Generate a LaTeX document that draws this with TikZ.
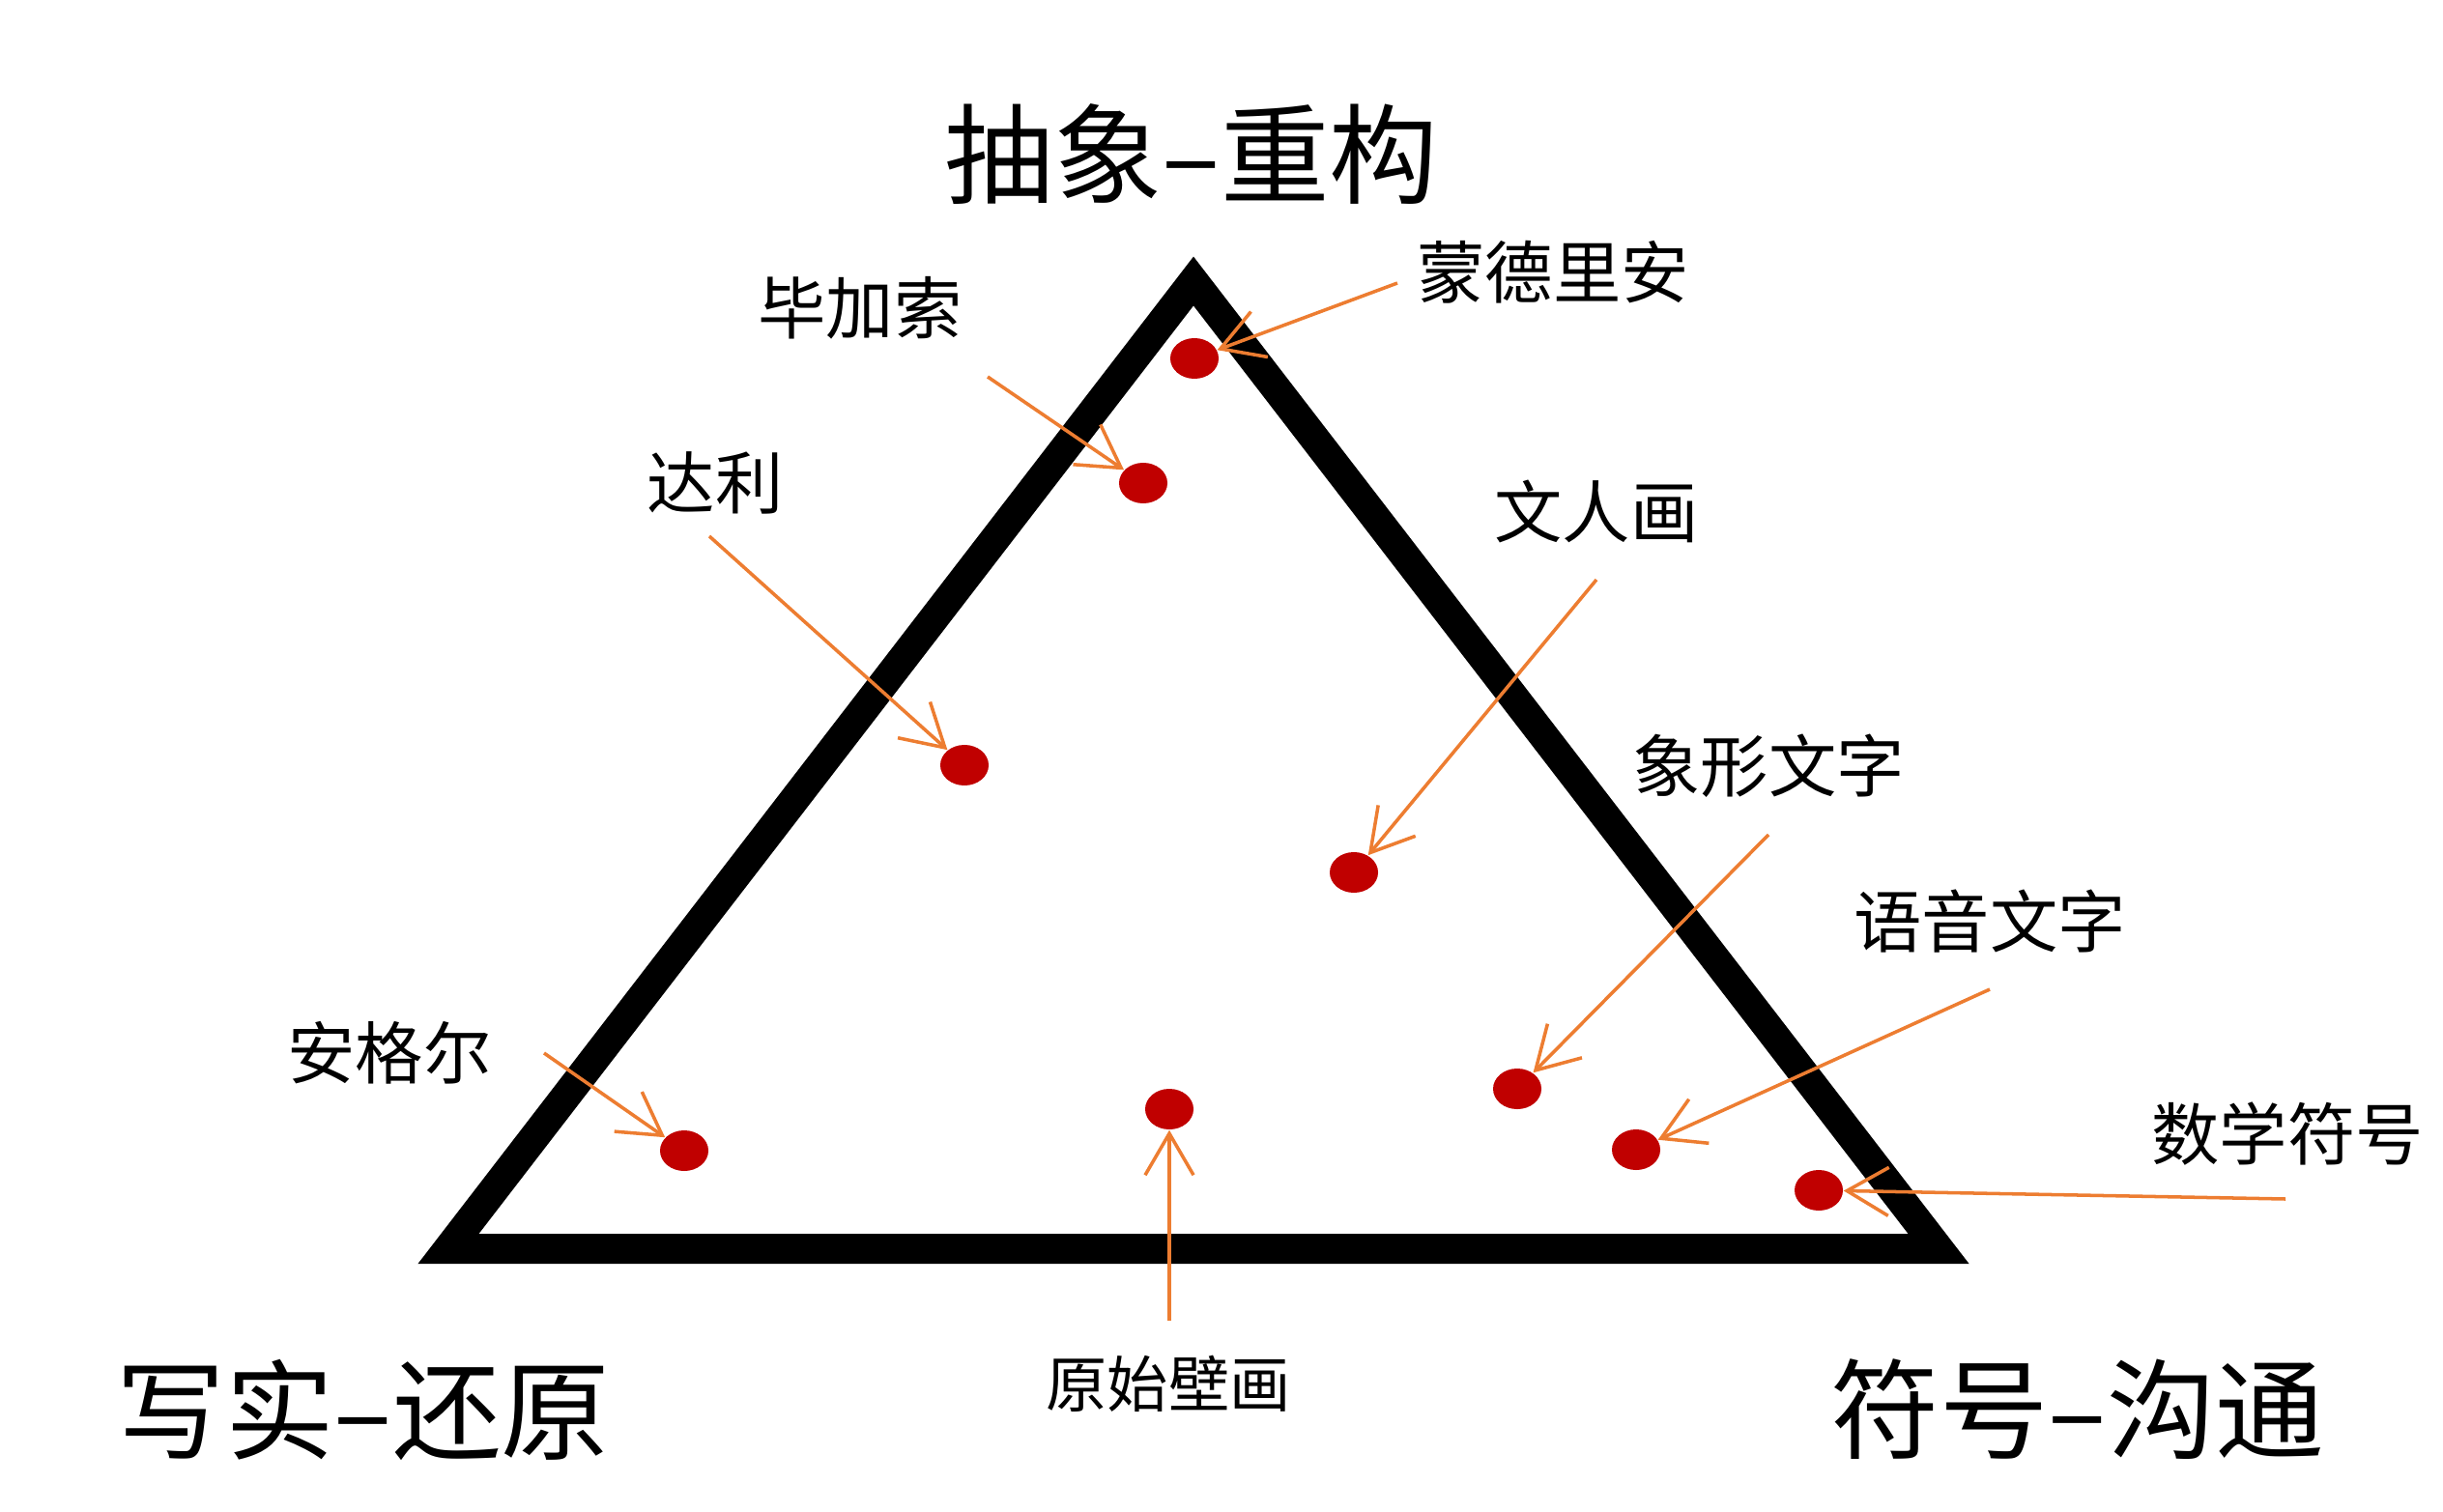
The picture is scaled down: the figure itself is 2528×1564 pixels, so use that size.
\documentclass[tikz,border=0pt]{standalone}
\usepackage{fontspec}
\setmainfont{Noto Sans CJK SC}
\usetikzlibrary{arrows.meta,shapes.geometric}
\definecolor{dotred}{RGB}{192,0,0}
\definecolor{arrorange}{RGB}{237,125,49}
\tikzset{
  tri/.style={line width=0.31cm, line join=miter, draw=black},
  dot/.style={ellipse, fill=dotred, draw=none, inner sep=0pt, minimum width=0.5cm, minimum height=0.42cm},
  arr/.style={draw=arrorange, line width=1pt, -{Straight Barb[length=4.3mm,width=5mm]}},
  biglabel/.style={font=\fontsize{32}{38}\selectfont, inner sep=0pt},
  label/.style={font=\fontsize{20}{24}\selectfont, inner sep=0pt},
  smalllabel/.style={font=\fontsize{18}{22}\selectfont, inner sep=0pt}
}
\begin{document}
\begin{tikzpicture}[x=0.01cm,y=-0.01cm]
\useasboundingbox (0,0) rectangle (2528,1564);
% triangle
\coordinate (apex) at (1235,291);
\coordinate (bl) at (464,1292.5);
\coordinate (br) at (2006,1292.5);
\draw[tri] (apex) -- (br) -- (bl) -- cycle;
% corner titles
\node[biglabel] (top) at (1233,160) {抽象–重构};
\node[biglabel] (left) at (376,1459) {写实–还原};
\node[biglabel] (right) at (2150,1459) {符号–沟通};
% dots
\node[dot] (d1) at (1236,371) {};
\node[dot] (d2) at (1183,500) {};
\node[dot] (d3) at (998,792) {};
\node[dot] (d4) at (1401,903) {};
\node[dot] (d5) at (708,1191) {};
\node[dot] (d6) at (1210,1148) {};
\node[dot] (d7) at (1570,1127) {};
\node[dot] (d8) at (1693,1190) {};
\node[dot] (d9) at (1882,1232) {};
% labels
\node[label] (l1) at (1607,282) {蒙德里安};
\node[label] (l2) at (890,319) {毕加索};
\node[label] (l3) at (740,500) {达利};
\node[label] (l4) at (1652,529) {文人画};
\node[label] (l5) at (403,1090) {安格尔};
\node[smalllabel] (l6) at (1209,1432) {原始壁画};
\node[label] (l7) at (1830,793) {象形文字};
\node[label] (l8) at (2059,954) {语音文字};
\node[label] (l9) at (2367,1174) {数学符号};
% arrow starts
\coordinate (s1) at (1446,293);
\coordinate (s2) at (1022,390);
\coordinate (s3) at (734,555);
\coordinate (s4) at (1652,600);
\coordinate (s5) at (563,1090);
\coordinate (s6) at (1210,1367);
\coordinate (s7) at (1830,864);
\coordinate (s8) at (2059,1024);
\coordinate (s9) at (2365,1241);
\draw[arr] (s1) -- (d1);
\draw[arr] (s2) -- (d2);
\draw[arr] (s3) -- (d3);
\draw[arr] (s4) -- (d4);
\draw[arr] (s5) -- (d5);
\draw[arr] (s6) -- (d6);
\draw[arr] (s7) -- (d7);
\draw[arr] (s8) -- (d8);
\draw[arr] (s9) -- (d9);
\end{tikzpicture}
\end{document}
